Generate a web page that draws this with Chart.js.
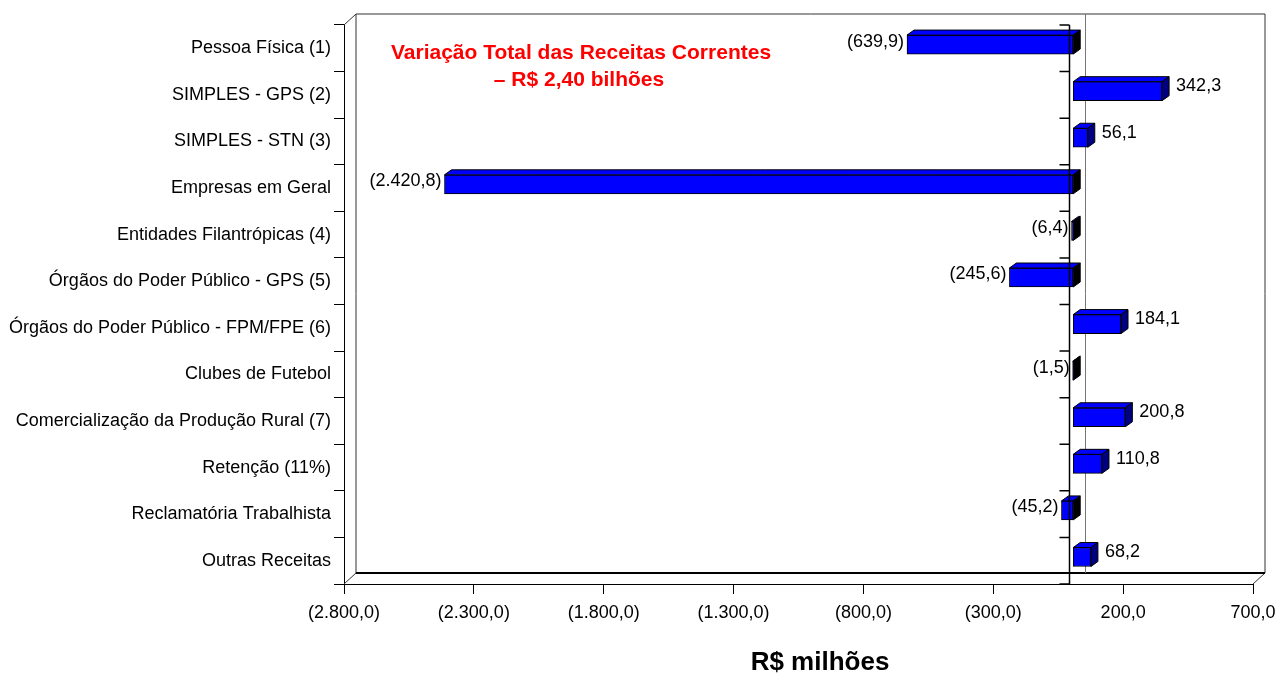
<!DOCTYPE html>
<html>
<head>
<meta charset="utf-8">
<script src="https://cdn.jsdelivr.net/npm/chart.js@4.4.1/dist/chart.umd.min.js"></script>
<style>
  html, body { margin: 0; padding: 0; background: #fff; }
  canvas { display: block; }
</style>
</head>
<body>
<canvas id="chart" width="1276" height="675"></canvas>
<script>
const categories = [
  'Pessoa Física (1)',
  'SIMPLES - GPS (2)',
  'SIMPLES - STN (3)',
  'Empresas em Geral',
  'Entidades Filantrópicas (4)',
  'Órgãos do Poder Público - GPS (5)',
  'Órgãos do Poder Público - FPM/FPE (6)',
  'Clubes de Futebol',
  'Comercialização da Produção Rural (7)',
  'Retenção (11%)',
  'Reclamatória Trabalhista',
  'Outras Receitas'
];

const variation = [-639.9, 342.3, 56.1, -2420.8, -6.4, -245.6, 184.1, -1.5, 200.8, 110.8, -45.2, 68.2];

const xTicks = [-2800, -2300, -1800, -1300, -800, -300, 200, 700];

const noteLines = ['Variação Total das Receitas Correntes', '– R$ 2,40 bilhões'];
const axisTitle = 'R$ milhões';

const FONT = '"Liberation Sans", Arial, sans-serif';

// brazilian number format, negatives in parentheses
function fmt(v) {
  const parts = Math.abs(v).toFixed(1).split('.');
  const s = parts[0].replace(/\B(?=(\d{3})+(?!\d))/g, '.') + ',' + parts[1];
  return v < 0 ? '(' + s + ')' : s;
}

// 3d look: back wall offset and bar depth
const wall = { dx: 12, dy: -11 };
const barShift = { x: 2, y: -3.7 };
const barDepth = { dx: 7, dy: -5 };

const framePlugin = {
  id: 'frame3d',
  beforeDatasetsDraw(chart) {
    const { ctx, chartArea: a } = chart;
    const x0 = chart.scales.x.getPixelForValue(0);
    ctx.save();
    ctx.lineWidth = 1;
    ctx.strokeStyle = '#333';
    ctx.beginPath();
    ctx.moveTo(a.left, a.top);
    ctx.lineTo(a.left + wall.dx, a.top + wall.dy);
    ctx.lineTo(a.right + wall.dx, a.top + wall.dy);
    ctx.lineTo(a.right + wall.dx, a.bottom + wall.dy);
    ctx.lineTo(a.right, a.bottom);
    ctx.moveTo(a.left + wall.dx, a.top + wall.dy);
    ctx.lineTo(a.left + wall.dx, a.bottom + wall.dy);
    ctx.lineTo(a.left, a.bottom);
    ctx.stroke();
    ctx.lineWidth = 2;
    ctx.strokeStyle = '#000';
    ctx.beginPath();
    ctx.moveTo(a.left + wall.dx, a.bottom + wall.dy);
    ctx.lineTo(a.right + wall.dx, a.bottom + wall.dy);
    ctx.stroke();
    // zero line on the back wall
    ctx.lineWidth = 1;
    ctx.strokeStyle = '#777';
    ctx.beginPath();
    ctx.moveTo(Math.round(x0 + 14) + 0.5, a.top + wall.dy);
    ctx.lineTo(Math.round(x0 + 14) + 0.5, a.bottom + wall.dy);
    ctx.stroke();
    ctx.restore();

    ctx.save();
    ctx.translate(barShift.x, barShift.y);
  },
  afterDatasetsDraw(chart) {
    const { ctx, chartArea: a } = chart;
    const meta = chart.getDatasetMeta(0);
    meta.data.forEach((el, i) => {
      const p = el.getProps(['x', 'y', 'base', 'height'], true);
      const l = Math.min(p.x, p.base), r = Math.max(p.x, p.base);
      const t = p.y - p.height / 2, b = p.y + p.height / 2;
      ctx.lineWidth = 1;
      ctx.strokeStyle = '#000';
      // top face
      ctx.fillStyle = '#0000ff';
      ctx.beginPath();
      ctx.moveTo(l, t);
      ctx.lineTo(l + barDepth.dx, t + barDepth.dy);
      ctx.lineTo(r + barDepth.dx, t + barDepth.dy);
      ctx.lineTo(r, t);
      ctx.closePath();
      ctx.fill();
      ctx.stroke();
      // side face
      ctx.fillStyle = variation[i] < 0 ? '#000000' : '#000080';
      ctx.beginPath();
      ctx.moveTo(r, t);
      ctx.lineTo(r + barDepth.dx, t + barDepth.dy);
      ctx.lineTo(r + barDepth.dx, b + barDepth.dy);
      ctx.lineTo(r, b);
      ctx.closePath();
      ctx.fill();
      ctx.stroke();
    });
    ctx.restore();

    // category axis crossing at zero
    const x0 = Math.round(chart.scales.x.getPixelForValue(0)) - 1.5;
    const step = (a.bottom - a.top) / categories.length;
    ctx.save();
    ctx.strokeStyle = '#000';
    ctx.lineWidth = 1.5;
    ctx.beginPath();
    ctx.moveTo(x0, a.top);
    ctx.lineTo(x0, a.bottom);
    for (let i = 0; i <= categories.length; i++) {
      const y = a.top + i * step;
      ctx.moveTo(x0 - 10, y);
      ctx.lineTo(x0, y);
    }
    ctx.stroke();

    // value labels
    ctx.fillStyle = '#000';
    ctx.font = '18px ' + FONT;
    ctx.textBaseline = 'middle';
    meta.data.forEach((el, i) => {
      const p = el.getProps(['x', 'y', 'base', 'height'], true);
      const v = variation[i];
      const cy = p.y + barShift.y;
      if (v < 0) {
        ctx.textAlign = 'right';
        ctx.fillText(fmt(v), p.x + barShift.x - 3, cy - 3);
      } else {
        ctx.textAlign = 'left';
        ctx.fillText(fmt(v), p.x + barShift.x + 14, cy - 5);
      }
    });

    // red note
    ctx.fillStyle = '#ff0000';
    ctx.font = 'bold 21px ' + FONT;
    ctx.textAlign = 'center';
    ctx.fillText(noteLines[0], 581, 53);
    ctx.fillText(noteLines[1], 579, 80);

    // axis title
    ctx.fillStyle = '#000';
    ctx.font = 'bold 26px ' + FONT;
    ctx.fillText(axisTitle, 820, 663);
    ctx.restore();
  }
};

new Chart(document.getElementById('chart'), {
  type: 'bar',
  data: {
    labels: categories,
    datasets: [{
      data: variation,
      backgroundColor: '#0000ff',
      borderColor: '#000000',
      borderWidth: 1,
      borderSkipped: false,
      barThickness: 19,
      clip: false
    }]
  },
  options: {
    indexAxis: 'y',
    responsive: false,
    animation: false,
    devicePixelRatio: 1,
    layout: { padding: { top: 25, right: 23, left: 0, bottom: 0 } },
    plugins: {
      legend: { display: false },
      tooltip: { enabled: false },
      title: { display: false }
    },
    scales: {
      x: {
        min: -2800,
        max: 700,
        afterBuildTicks(scale) {
          scale.ticks = xTicks.map(v => ({ value: v }));
        },
        afterFit(scale) {
          scale.height = 91;
          scale.paddingLeft = 0;
          scale.paddingRight = 0;
        },
        grid: { drawOnChartArea: false, drawTicks: true, tickLength: 10, color: '#000' },
        border: { display: true, color: '#000', width: 1 },
        ticks: {
          color: '#000',
          padding: 8,
          maxRotation: 0,
          font: { family: FONT, size: 18 },
          callback: v => fmt(v)
        }
      },
      y: {
        afterFit(scale) { scale.width = 344; },
        grid: { drawOnChartArea: false, drawTicks: true, tickLength: 10, color: '#000', offset: true },
        border: { display: true, color: '#000', width: 1 },
        ticks: {
          color: '#000',
          padding: 3,
          font: { family: FONT, size: 18 }
        }
      }
    }
  },
  plugins: [framePlugin]
});
</script>
</body>
</html>
